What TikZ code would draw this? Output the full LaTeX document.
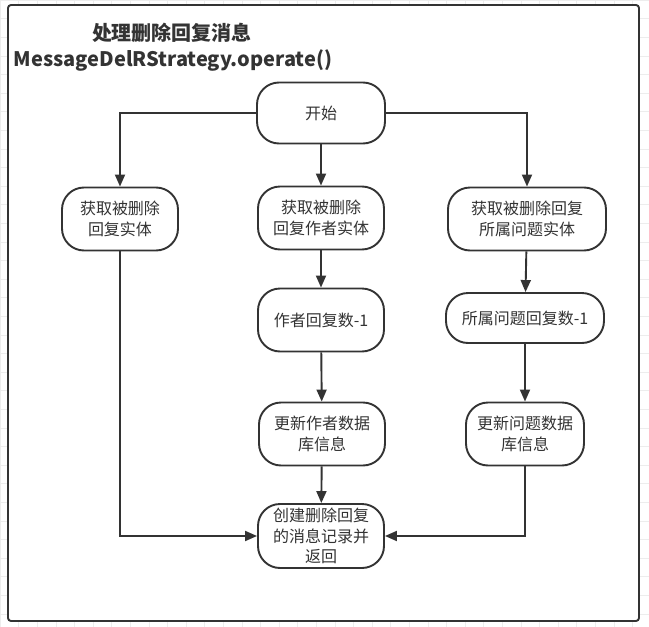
\documentclass[tikz,border=0pt]{standalone}
\usepackage{fontspec}
\setmainfont{Noto Sans CJK SC}
\usetikzlibrary{arrows.meta}
\definecolor{ink}{HTML}{333333}
\definecolor{gridc}{HTML}{EDEDED}
\tikzset{
  flow/.style={draw=ink, line width=1.9pt, rounded corners=22pt, fill=white,
    text=ink, align=center, font=\fontsize{16}{20.5}\selectfont, inner sep=0pt},
  conn/.style={draw=ink, line width=1.9pt, -{Triangle[length=12pt,width=10pt]}},
  frame/.style={draw=ink, line width=1.9pt, rounded corners=3pt, fill=white},
}
\begin{document}
\begin{tikzpicture}[x=1pt,y=-1pt]
\useasboundingbox (0,0) rectangle (649,627);
\draw[gridc, line width=0.6pt] \foreach \i in {0,...,35} {(\i*18.6,0) -- (\i*18.6,627)} \foreach \j in {0,...,34} {(0,\j*18.6) -- (649,\j*18.6)};
\draw[frame] (8,5) rectangle (639,621);
\node[font=\bfseries\fontsize{20}{24}\selectfont, text=ink] (t1) at (172,33) {处理删除回复消息};
\node[font=\bfseries\fontsize{20}{24}\selectfont, text=ink] (t2) at (173,60) {MessageDelRStrategy.operate()};

\node[flow, minimum width=128pt, minimum height=61pt] (start) at (321,113) {开始};
\node[flow, minimum width=116pt, minimum height=63pt] (a1) at (120,219) {获取被删除\\回复实体};
\node[flow, minimum width=126pt, minimum height=63pt] (a2) at (321,218) {获取被删除\\回复作者实体};
\node[flow, minimum width=158pt, minimum height=63pt] (a3) at (527,219) {获取被删除回复\\所属问题实体};
\node[flow, minimum width=126pt, minimum height=63pt] (b2) at (321,320) {作者回复数-1};
\node[flow, minimum width=158pt, minimum height=50pt] (b3) at (525,318) {所属问题回复数-1};
\node[flow, minimum width=126pt, minimum height=63pt] (c2) at (322,434) {更新作者数据\\库信息};
\node[flow, minimum width=118pt, minimum height=63pt] (c3) at (525,434) {更新问题数据\\库信息};
\node[flow, minimum width=126pt, minimum height=64pt] (e) at (321,536) {创建删除回复\\的消息记录并\\返回};

\draw[conn] (start.west) -| (a1.north);
\draw[conn] (start.east) -| (a3.north);
\draw[conn] (start.south) -- (a2.north);
\draw[conn] (a2) -- (b2);
\draw[conn] (b2) -- (c2);
\draw[conn] (c2) -- (e);
\draw[conn] (a3) -- (b3);
\draw[conn] (b3) -- (c3);
\draw[conn] (c3.south) |- (e.east);
\draw[conn] (a1.south) |- (e.west);
\end{tikzpicture}
\end{document}
